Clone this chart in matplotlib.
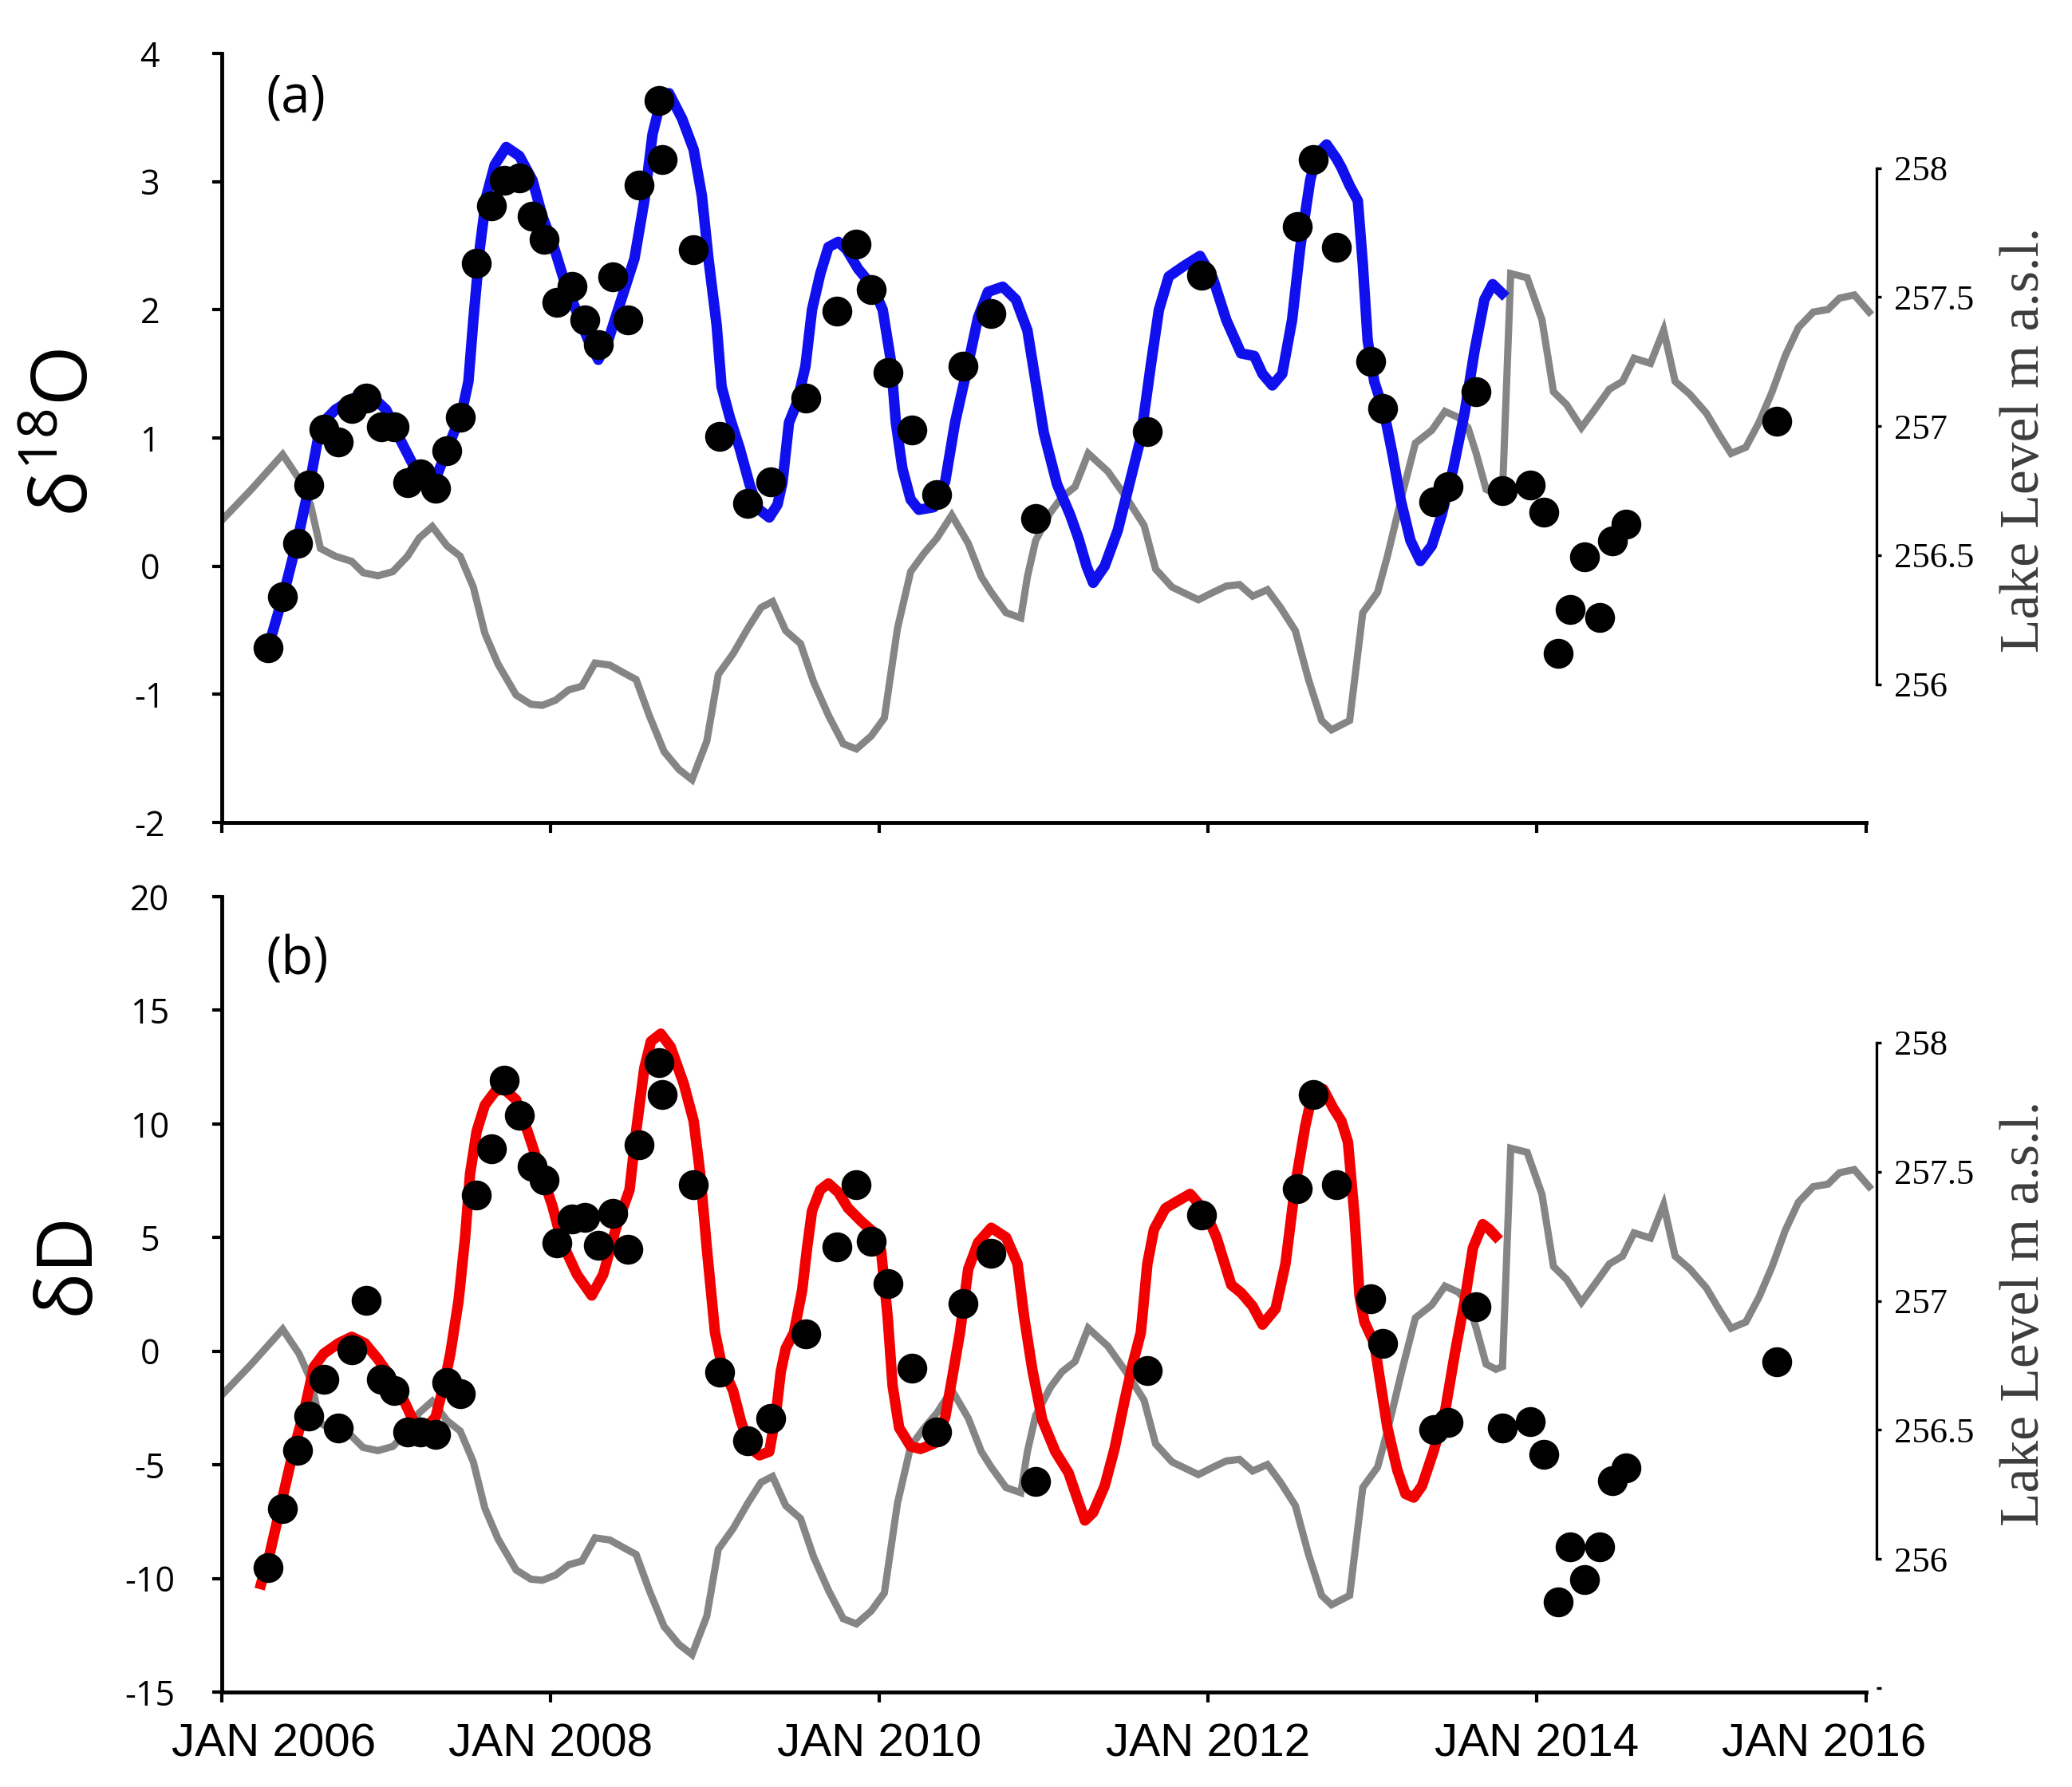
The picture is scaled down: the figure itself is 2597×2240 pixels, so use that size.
import numpy as np
import matplotlib
matplotlib.use('Agg')
import matplotlib.pyplot as plt
from matplotlib.transforms import ScaledTranslation

plt.rcParams['mathtext.default'] = 'regular'
plt.rcParams['font.family'] = ['Open Sans', 'DejaVu Sans']

# sampling dates (decimal year) and measured values
sample_year = [2006.28, 2006.37, 2006.46, 2006.53, 2006.62, 2006.71, 2006.79, 2006.88, 2006.97, 2007.05,
               2007.13, 2007.21, 2007.30, 2007.37, 2007.45, 2007.55, 2007.64, 2007.72, 2007.81, 2007.89,
               2007.96, 2008.04, 2008.13, 2008.21, 2008.29, 2008.38, 2008.47, 2008.54, 2008.66, 2008.68,
               2008.87, 2009.03, 2009.20, 2009.34, 2009.55, 2009.74, 2009.86, 2009.95, 2010.05, 2010.20,
               2010.35, 2010.51, 2010.68, 2010.95, 2011.63, 2011.96, 2012.54, 2012.64, 2012.78, 2012.99,
               2013.06, 2013.37, 2013.46, 2013.63, 2013.79, 2013.96, 2014.04, 2014.13, 2014.20, 2014.29,
               2014.38, 2014.46, 2014.54, 2015.46]
d18o = [-0.64, -0.24, 0.18, 0.63, 1.07, 0.97, 1.23, 1.31, 1.09, 1.09,
        0.65, 0.72, 0.61, 0.90, 1.16, 2.36, 2.81, 3.01, 3.03, 2.73,
        2.55, 2.06, 2.18, 1.92, 1.73, 2.26, 1.92, 2.97, 3.63, 3.17,
        2.47, 1.01, 0.49, 0.66, 1.31, 1.99, 2.51, 2.16, 1.51, 1.06,
        0.56, 1.56, 1.97, 0.37, 1.05, 2.27, 2.65, 3.17, 2.49, 1.60,
        1.23, 0.50, 0.62, 1.36, 0.59, 0.63, 0.42, -0.68, -0.34, 0.07,
        -0.40, 0.20, 0.33, 1.13]
dD = [-9.54, -6.91, -4.35, -2.86, -1.23, -3.37, 0.05, 2.22, -1.23, -1.74,
      -3.56, -3.56, -3.65, -1.39, -1.86, 6.87, 8.92, 11.92, 10.37, 8.15,
      7.52, 4.78, 5.82, 5.89, 4.66, 6.06, 4.47, 9.08, 12.69, 11.30,
      7.34, -0.93, -3.95, -2.95, 0.77, 4.59, 7.34, 4.85, 2.98, -0.74,
      -3.56, 2.10, 4.31, -5.75, -0.86, 6.01, 7.15, 11.30, 7.34, 2.29,
      0.35, -3.44, -3.14, 1.94, -3.37, -3.09, -4.54, -11.05, -8.61, -10.05,
      -8.61, -5.70, -5.12, -0.46]

# modelled d18O curve
blue_year = [2006.29, 2006.38, 2006.47, 2006.54, 2006.60, 2006.69, 2006.80, 2006.90, 2007.00, 2007.08,
             2007.16, 2007.24, 2007.30, 2007.38, 2007.46, 2007.50, 2007.53, 2007.57, 2007.61, 2007.66,
             2007.73, 2007.81, 2007.89, 2007.95, 2008.02, 2008.08, 2008.16, 2008.23, 2008.29, 2008.35,
             2008.43, 2008.51, 2008.57, 2008.62, 2008.67, 2008.72, 2008.80, 2008.87, 2008.92, 2008.96,
             2009.01, 2009.04, 2009.09, 2009.15, 2009.21, 2009.26, 2009.33, 2009.38, 2009.41, 2009.45,
             2009.50, 2009.55, 2009.59, 2009.64, 2009.69, 2009.75, 2009.80, 2009.87, 2009.96, 2010.02,
             2010.07, 2010.10, 2010.14, 2010.19, 2010.24, 2010.33, 2010.40, 2010.46, 2010.53, 2010.60,
             2010.66, 2010.75, 2010.83, 2010.90, 2010.95, 2011.00, 2011.08, 2011.16, 2011.21, 2011.26,
             2011.30, 2011.37, 2011.45, 2011.52, 2011.59, 2011.65, 2011.70, 2011.76, 2011.85, 2011.95,
             2012.03, 2012.11, 2012.20, 2012.28, 2012.33, 2012.39, 2012.45, 2012.51, 2012.56, 2012.62,
             2012.66, 2012.72, 2012.78, 2012.81, 2012.86, 2012.91, 2012.94, 2012.97, 2013.01, 2013.07,
             2013.12, 2013.17, 2013.23, 2013.29, 2013.36, 2013.42, 2013.49, 2013.56, 2013.62, 2013.68,
             2013.73, 2013.81]
blue_val = [-0.60, -0.20, 0.26, 0.68, 1.10, 1.22, 1.31, 1.34, 1.22, 1.00,
            0.80, 0.69, 0.68, 0.94, 1.20, 1.44, 1.92, 2.49, 2.89, 3.13,
            3.27, 3.20, 3.01, 2.73, 2.49, 2.24, 1.98, 1.76, 1.61, 1.76,
            2.08, 2.40, 2.85, 3.37, 3.63, 3.69, 3.49, 3.25, 2.89, 2.40,
            1.88, 1.40, 1.16, 0.92, 0.64, 0.45, 0.38, 0.48, 0.65, 1.12,
            1.28, 1.56, 2.00, 2.28, 2.49, 2.53, 2.47, 2.32, 2.18, 2.00,
            1.60, 1.12, 0.76, 0.52, 0.44, 0.46, 0.66, 1.12, 1.52, 1.94,
            2.14, 2.18, 2.08, 1.84, 1.44, 1.04, 0.64, 0.40, 0.22, 0.00,
            -0.13, 0.00, 0.28, 0.64, 1.00, 1.56, 2.00, 2.26, 2.34, 2.42,
            2.24, 1.92, 1.66, 1.64, 1.50, 1.41, 1.50, 1.92, 2.49, 3.01,
            3.21, 3.29, 3.18, 3.11, 2.97, 2.85, 2.36, 1.76, 1.44, 1.20,
            0.88, 0.52, 0.20, 0.04, 0.16, 0.40, 0.76, 1.20, 1.68, 2.08,
            2.20, 2.10]

# modelled dD curve
red_year = [2006.23, 2006.29, 2006.36, 2006.43, 2006.50, 2006.56, 2006.62, 2006.71, 2006.79, 2006.87,
            2006.95, 2007.04, 2007.11, 2007.17, 2007.24, 2007.30, 2007.35, 2007.39, 2007.44, 2007.48,
            2007.51, 2007.55, 2007.60, 2007.66, 2007.71, 2007.79, 2007.86, 2007.94, 2008.01, 2008.07,
            2008.16, 2008.25, 2008.32, 2008.40, 2008.48, 2008.52, 2008.57, 2008.61, 2008.67, 2008.73,
            2008.81, 2008.87, 2008.91, 2008.95, 2009.00, 2009.04, 2009.11, 2009.16, 2009.22, 2009.27,
            2009.33, 2009.37, 2009.40, 2009.43, 2009.48, 2009.53, 2009.56, 2009.59, 2009.64, 2009.69,
            2009.75, 2009.81, 2009.89, 2009.97, 2010.01, 2010.05, 2010.08, 2010.12, 2010.19, 2010.25,
            2010.33, 2010.40, 2010.44, 2010.49, 2010.54, 2010.60, 2010.68, 2010.77, 2010.84, 2010.88,
            2010.93, 2010.99, 2011.07, 2011.15, 2011.20, 2011.25, 2011.30, 2011.37, 2011.43, 2011.49,
            2011.54, 2011.59, 2011.63, 2011.67, 2011.74, 2011.81, 2011.89, 2011.98, 2012.05, 2012.14,
            2012.20, 2012.27, 2012.33, 2012.41, 2012.47, 2012.53, 2012.59, 2012.64, 2012.70, 2012.76,
            2012.81, 2012.85, 2012.89, 2012.92, 2012.95, 2013.01, 2013.05, 2013.09, 2013.15, 2013.20,
            2013.25, 2013.30, 2013.37, 2013.44, 2013.50, 2013.56, 2013.61, 2013.67, 2013.71, 2013.77]
red_val = [-10.47, -8.96, -6.75, -4.54, -2.67, -0.69, -0.11, 0.35, 0.63, 0.35,
           -0.35, -1.28, -2.21, -3.14, -3.37, -2.91, -1.51, -0.11, 2.22, 5.01,
           7.80, 9.67, 10.83, 11.41, 11.58, 11.06, 9.67, 7.92, 6.41, 4.78,
           3.38, 2.45, 3.38, 5.47, 7.10, 9.67, 12.46, 13.63, 13.97, 13.39,
           11.76, 10.13, 7.80, 4.54, 0.82, -0.58, -1.74, -3.14, -4.30, -4.58,
           -4.42, -2.80, -0.90, 0.12, 0.82, 2.68, 4.54, 6.17, 7.10, 7.38,
           6.99, 6.29, 5.71, 5.20, 4.43, 1.52, -1.51, -3.37, -4.19, -4.30,
           -4.07, -2.91, -1.28, 0.82, 3.61, 4.78, 5.43, 5.01, 3.85, 1.52,
           -0.81, -3.02, -4.42, -5.35, -6.40, -7.45, -7.10, -5.93, -4.30, -2.21,
           -0.58, 0.82, 3.85, 5.36, 6.29, 6.59, 6.92, 6.17, 5.01, 2.92,
           2.57, 1.98, 1.17, 1.87, 3.85, 7.34, 9.90, 11.53, 11.53, 10.70,
           10.13, 9.20, 5.94, 2.45, 1.29, 0.35, -1.51, -3.37, -5.23, -6.28,
           -6.44, -5.93, -4.42, -2.67, -0.11, 2.22, 4.54, 5.59, 5.36, 4.89]

# lake level, m a.s.l.
lake_year = [2006.00, 2006.18, 2006.37, 2006.47, 2006.54, 2006.60, 2006.69, 2006.79, 2006.86, 2006.95,
             2007.04, 2007.13, 2007.20, 2007.28, 2007.37, 2007.45, 2007.53, 2007.60, 2007.68, 2007.79,
             2007.88, 2007.95, 2008.03, 2008.11, 2008.19, 2008.27, 2008.36, 2008.45, 2008.52, 2008.60,
             2008.69, 2008.78, 2008.86, 2008.95, 2009.02, 2009.11, 2009.20, 2009.28, 2009.35, 2009.43,
             2009.52, 2009.60, 2009.69, 2009.78, 2009.86, 2009.95, 2010.03, 2010.11, 2010.19, 2010.27,
             2010.35, 2010.44, 2010.54, 2010.62, 2010.68, 2010.77, 2010.86, 2010.90, 2010.95, 2011.04,
             2011.11, 2011.19, 2011.27, 2011.39, 2011.50, 2011.61, 2011.68, 2011.78, 2011.94, 2012.03,
             2012.11, 2012.19, 2012.27, 2012.36, 2012.44, 2012.53, 2012.61, 2012.69, 2012.75, 2012.86,
             2012.94, 2013.03, 2013.09, 2013.18, 2013.26, 2013.36, 2013.44, 2013.52, 2013.58, 2013.63,
             2013.69, 2013.75, 2013.79, 2013.84, 2013.94, 2014.03, 2014.10, 2014.18, 2014.27, 2014.35,
             2014.44, 2014.52, 2014.59, 2014.69, 2014.77, 2014.84, 2014.93, 2015.03, 2015.11, 2015.18,
             2015.27, 2015.35, 2015.43, 2015.51, 2015.59, 2015.68, 2015.77, 2015.84, 2015.93, 2016.02]
lake_level = [256.635, 256.755, 256.890, 256.795, 256.695, 256.526, 256.496, 256.476, 256.432, 256.420,
              256.436, 256.496, 256.566, 256.611, 256.536, 256.496, 256.376, 256.197, 256.078, 255.958,
              255.922, 255.918, 255.938, 255.978, 255.992, 256.082, 256.074, 256.042, 256.018, 255.879,
              255.739, 255.670, 255.630, 255.779, 256.038, 256.118, 256.217, 256.297, 256.320, 256.207,
              256.157, 256.008, 255.879, 255.769, 255.749, 255.799, 255.869, 256.217, 256.436, 256.506,
              256.566, 256.655, 256.546, 256.416, 256.356, 256.277, 256.257, 256.416, 256.556, 256.665,
              256.725, 256.765, 256.894, 256.824, 256.725, 256.615, 256.446, 256.376, 256.327, 256.356,
              256.380, 256.386, 256.341, 256.366, 256.297, 256.207, 256.018, 255.859, 255.823, 255.859,
              256.277, 256.356, 256.496, 256.735, 256.934, 256.984, 257.057, 257.034, 256.994, 256.894,
              256.755, 256.735, 256.745, 257.591, 257.575, 257.412, 257.133, 257.083, 256.994, 257.063,
              257.143, 257.173, 257.263, 257.243, 257.372, 257.173, 257.123, 257.050, 256.964, 256.894,
              256.918, 257.014, 257.133, 257.273, 257.382, 257.442, 257.452, 257.496, 257.508, 257.442]

x_ticks = [2006, 2008, 2010, 2012, 2014, 2016]
x_labels = ['JAN 2006', 'JAN 2008', 'JAN 2010', 'JAN 2012', 'JAN 2014', 'JAN 2016']
lake_ticks = [256, 256.5, 257, 257.5, 258]
lake_labels = ['256', '256.5', '257', '257.5', '258']

fig = plt.figure(figsize=(25.97, 22.40), dpi=100)
ax1 = fig.add_axes([0.10705, 0.53973, 0.79861, 0.43036])
ax2 = fig.add_axes([0.10705, 0.05313, 0.79861, 0.44509])

def style_panel(ax, ylim, yticks, curve_x, curve_y, color, pts, tag, tag_y, lake_lim, extra_tick):
    tw = ax.twinx()
    tw.plot(lake_year, lake_level, color='#858585', lw=6.5, solid_joinstyle='miter')
    tw.set_ylim(*lake_lim)
    if extra_tick:
        tw.set_yticks([255.5] + lake_ticks, [''] + lake_labels,
                      family=['Liberation Serif'], fontsize=32)
    else:
        tw.set_yticks(lake_ticks, lake_labels, family=['Liberation Serif'], fontsize=32)
    tw.spines['right'].set_bounds(256, 258)
    tw.spines['right'].set_linewidth(2.4)
    for s in ['top', 'left', 'bottom']:
        tw.spines[s].set_visible(False)
    tw.tick_params(axis='y', direction='out', length=4, width=2.4, pad=12)

    ax.set_zorder(tw.get_zorder() + 1)
    ax.patch.set_visible(False)
    ax.plot(curve_x, curve_y, color=color, lw=9.5, solid_capstyle='butt')
    ax.plot(sample_year, pts, 'o', color='black', ms=27, mec='none')

    ax.set_xlim(2006, 2016.065)
    ax.set_ylim(*ylim)
    ax.set_yticks(yticks, [str(v) for v in yticks], ha='center', fontsize=31)
    ax.set_xticks(x_ticks)
    for s in ['top', 'right']:
        ax.spines[s].set_visible(False)
    ax.spines['left'].set_linewidth(3.5)
    ax.spines['bottom'].set_linewidth(3.5)
    ax.spines['bottom'].set_bounds(2006, 2016)
    ax.tick_params(axis='y', direction='out', length=9, width=3, pad=56)
    ax.tick_params(axis='x', direction='out', length=9, width=3, pad=19)
    ax.text(0.0265, tag_y, tag, transform=ax.transAxes, ha='left', va='center', fontsize=47)
    return tw

style_panel(ax1, (-2, 4), [-2, -1, 0, 1, 2, 3, 4], blue_year, blue_val, '#1010ee', d18o,
            '(a)', 0.941, (255.464, 258.444), False)
style_panel(ax2, (-15, 20), [-15, -10, -5, 0, 5, 10, 15, 20], red_year, red_val, '#f20000', dD,
            '(b)', 0.919, (255.485, 258.565), True)

ax1.set_xticklabels([])
ax2.set_xticklabels(x_labels, family=['Liberation Sans'], fontsize=42)
labels = ax2.get_xticklabels()
labels[0].set_transform(labels[0].get_transform() + ScaledTranslation(0.65, 0, fig.dpi_scale_trans))
labels[-1].set_transform(labels[-1].get_transform() + ScaledTranslation(-0.52, 0, fig.dpi_scale_trans))

fig.text(0.0327, 0.758, 'δ$^{18}$O', rotation=90, ha='center', va='center', fontsize=70)
fig.text(0.0327, 0.2933, 'δD', rotation=90, ha='center', va='center', fontsize=70)
for yy in [0.754, 0.2652]:
    fig.text(0.9773, yy, 'Lake Level m a.s.l.', rotation=90, ha='center', va='center',
             family=['Liberation Serif'], fontsize=50, color='#3c3c3c')

fig.savefig('out.png', dpi=100)
